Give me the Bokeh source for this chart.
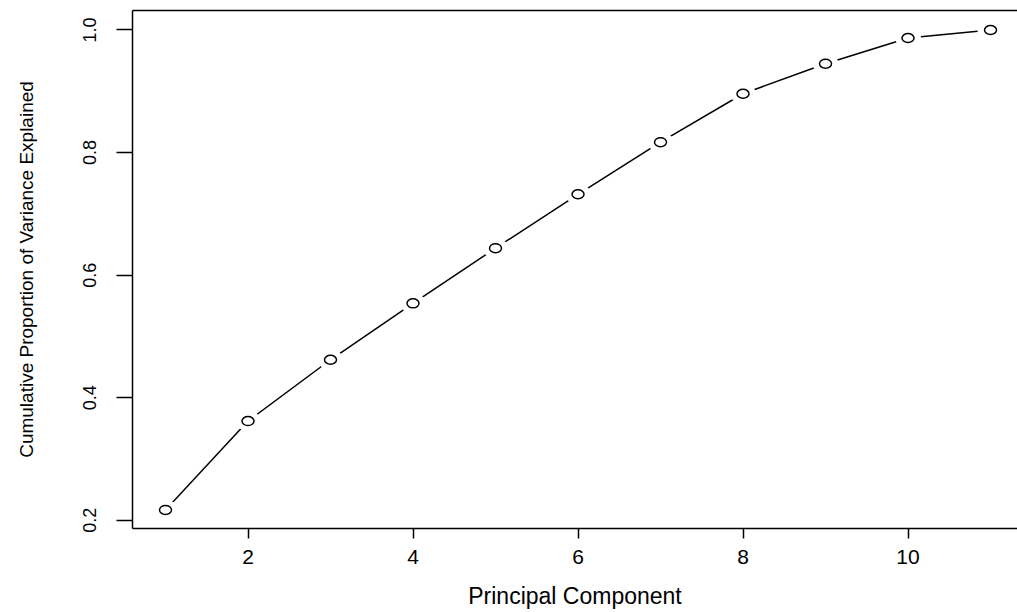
from bokeh.plotting import figure
from bokeh.models import Range1d, FixedTicker, LinearAxis, ColumnDataSource
from bokeh.embed import file_html
from bokeh.resources import INLINE

components = [1, 2, 3, 4, 5, 6, 7, 8, 9, 10, 11]
cum_var = [0.217, 0.362, 0.462, 0.554, 0.644, 0.732, 0.817, 0.896, 0.945, 0.987, 1.0]
x_ticks = [2, 4, 6, 8, 10]
y_ticks = [0.2, 0.4, 0.6, 0.8, 1.0]

src = ColumnDataSource(dict(x=components, y=cum_var))

p = figure(width=1017, height=612, output_backend="svg", toolbar_location=None,
           x_range=Range1d(0.6, 11.327), y_range=Range1d(0.1867, 1.0318))
p.min_border_left = 132
p.min_border_right = 0
p.min_border_top = 10
p.min_border_bottom = 84
p.outline_line_color = None
p.grid.visible = False
p.background_fill_color = "white"
p.border_fill_color = "white"

p.line("x", "y", source=src, line_color="black", line_width=1.5)
p.ellipse("x", "y", source=src, width=26, height=20, width_units="screen",
          height_units="screen", fill_color="white", line_color=None)
p.ellipse("x", "y", source=src, width=12, height=9, width_units="screen",
          height_units="screen", fill_color="white", line_color="black", line_width=1.5)

xa = p.xaxis[0]
xa.ticker = FixedTicker(ticks=x_ticks)
xa.minor_tick_line_color = None
xa.major_tick_in = 0
xa.major_tick_out = 10
xa.major_tick_line_width = 1.5
xa.axis_line_width = 1.5
xa.axis_line_color = "black"
xa.major_tick_line_color = "black"
xa.major_label_text_font = "Liberation Sans"
xa.major_label_text_font_size = "21px"
xa.major_label_text_color = "black"
xa.major_label_standoff = 11
xa.axis_label = "Principal Component"
xa.axis_label_text_font = "Liberation Sans"
xa.axis_label_text_font_style = "normal"
xa.axis_label_text_font_size = "23px"
xa.axis_label_text_color = "black"
xa.axis_label_standoff = 16

ya = p.yaxis[0]
ya.ticker = FixedTicker(ticks=y_ticks)
ya.minor_tick_line_color = None
ya.major_tick_in = 0
ya.major_tick_out = 16
ya.major_tick_line_width = 1.5
ya.axis_line_width = 1.5
ya.axis_line_color = "black"
ya.major_tick_line_color = "black"
ya.major_label_orientation = "vertical"
ya.major_label_text_font = "Liberation Sans"
ya.major_label_text_font_size = "18px"
ya.major_label_text_color = "black"
ya.major_label_standoff = 20
ya.major_label_overrides = {0.2: "0.2", 0.4: "0.4", 0.6: "0.6", 0.8: "0.8", 1.0: "1.0"}
ya.axis_label = "Cumulative Proportion of Variance Explained"
ya.axis_label_text_font = "Liberation Sans"
ya.axis_label_text_font_style = "normal"
ya.axis_label_text_font_size = "19px"
ya.axis_label_text_color = "black"
ya.axis_label_standoff = 44

top = LinearAxis(ticker=FixedTicker(ticks=[]), axis_line_color="black", axis_line_width=1.5,
                 major_tick_out=0, major_tick_in=0, minor_tick_out=0, minor_tick_in=0,
                 major_label_text_font_size="0px", major_label_standoff=0)
p.add_layout(top, "above")

open("out.html", "w").write(file_html(p, INLINE))
